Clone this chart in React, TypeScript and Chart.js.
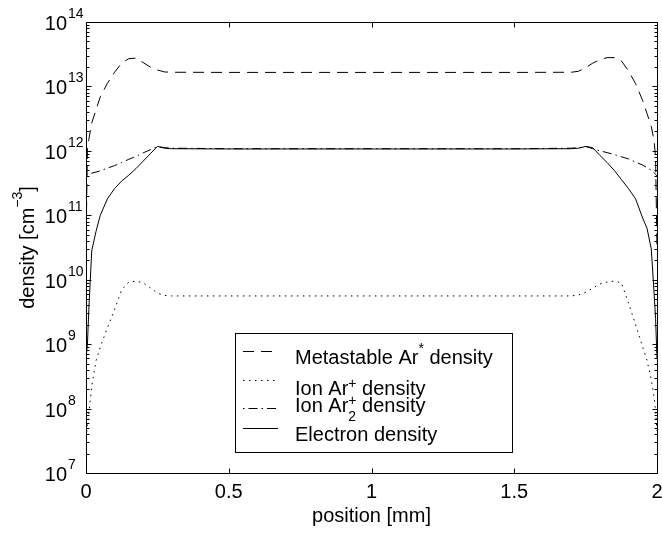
import React, { useEffect, useRef } from "react";
import { Chart, registerables } from "chart.js";

Chart.register(...registerables);

// position along the gap [mm]
const positionMm = [
  0, 0.005, 0.01, 0.02, 0.035, 0.05, 0.075, 0.1, 0.125, 0.15, 0.175, 0.2, 0.225, 0.25, 0.275, 0.3,
  0.5, 0.75, 1.0, 1.25, 1.5,
  1.7, 1.725, 1.75, 1.775, 1.8, 1.825, 1.85, 1.875, 1.9, 1.925, 1.95, 1.965, 1.98, 1.99, 1.995, 2.0,
];

// Metastable Ar* density [cm^-3]
const metastableDensity = [
  3e10, 1.1e12, 1.5e12, 2.7e12, 4.3e12, 6.9e12, 1.12e13, 1.66e13, 2.3e13, 2.7e13, 2.75e13, 2.35e13, 2.0e13, 1.8e13, 1.68e13, 1.66e13,
  1.65e13, 1.65e13, 1.65e13, 1.65e13, 1.65e13,
  1.66e13, 1.72e13, 1.95e13, 2.3e13, 2.6e13, 2.8e13, 2.8e13, 2.5e13, 1.75e13, 1.1e13, 6e12, 3.8e12, 2.4e12, 1.4e12, 8e11, 3e10,
];

// Ion Ar+ density [cm^-3]
const ionArDensity = [
  3.5e7, 5.5e7, 8.5e7, 2.2e8, 5.5e8, 9e8, 1.8e9, 3.4e9, 7e9, 9.2e9, 9.5e9, 9.0e9, 7.5e9, 6.2e9, 5.7e9, 5.6e9,
  5.6e9, 5.6e9, 5.6e9, 5.6e9, 5.6e9,
  5.6e9, 5.8e9, 6.4e9, 7.4e9, 8.6e9, 9.2e9, 9.5e9, 9e9, 4.4e9, 2e9, 9e8, 5.6e8, 2.8e8, 1.5e8, 9e7, 4.5e7,
];

// Ion Ar2+ density [cm^-3]
const ionAr2Density = [
  4.2e11, 4.3e11, 4.4e11, 4.5e11, 4.7e11, 4.9e11, 5.4e11, 5.9e11, 6.6e11, 7.4e11, 8.2e11, 9.3e11, 1.04e12, 1.17e12, 1.12e12, 1.1e12,
  1.08e12, 1.08e12, 1.08e12, 1.08e12, 1.08e12,
  1.1e12, 1.12e12, 1.17e12, 1.08e12, 1.0e12, 9.4e11, 8.8e11, 8.1e11, 7.5e11, 6.7e11, 6.0e11, 5.5e11, 5.0e11, 4.6e11, 4.3e11, 4.1e11,
];

// Electron density [cm^-3]
const electronDensity = [
  6e8, 1.0e9, 3.5e9, 2.8e10, 5.6e10, 1.0e11, 1.8e11, 2.6e11, 3.4e11, 4.2e11, 5.3e11, 6.9e11, 9e11, 1.17e12, 1.1e12, 1.08e12,
  1.07e12, 1.07e12, 1.07e12, 1.07e12, 1.07e12,
  1.08e12, 1.1e12, 1.17e12, 1.12e12, 8.5e11, 6.6e11, 5e11, 3.6e11, 2.6e11, 1.8e11, 9e10, 6.3e10, 3e10, 6e9, 2.5e9, 6e8,
];

const xTicks = [0, 0.5, 1, 1.5, 2];
const xTickLabels = ["0", "0.5", "1", "1.5", "2"];
const yExponents = [7, 8, 9, 10, 11, 12, 13, 14];

const legendLabels = ["Metastable Ar", "Ion Ar", "Ion Ar", "Electron density"];

const FONT = '"Liberation Sans", Arial, Helvetica, sans-serif';
const INK = "#000";

const DASHED = [11, 7];
const DOTTED = [1.5, 4.5];
const DASHDOT = [1.5, 4, 9, 4];

type Part = { t: string; size: number; dy: number };

function drawParts(ctx: CanvasRenderingContext2D, parts: Part[], x: number, y: number) {
  let cx = x;
  for (const p of parts) {
    ctx.font = `${p.size}px ${FONT}`;
    ctx.fillText(p.t, cx, y + p.dy);
    cx += ctx.measureText(p.t).width;
  }
  return cx;
}

function partsWidth(ctx: CanvasRenderingContext2D, parts: Part[]) {
  let w = 0;
  for (const p of parts) {
    ctx.font = `${p.size}px ${FONT}`;
    w += ctx.measureText(p.t).width;
  }
  return w;
}

const axesPlugin = {
  id: "matlabAxes",
  afterDraw(chart: any) {
    const ctx: CanvasRenderingContext2D = chart.ctx;
    const { left, right, top, bottom } = chart.chartArea;
    const xs = chart.scales.x;
    const ys = chart.scales.y;
    const L = Math.round(left) + 0.5;
    const R = Math.round(right) + 0.5;
    const T = Math.round(top) + 0.5;
    const B = Math.round(bottom) + 0.5;

    ctx.save();
    ctx.strokeStyle = INK;
    ctx.fillStyle = INK;
    ctx.lineWidth = 1;
    ctx.setLineDash([]);

    // ticks
    const major = 5;
    const minor = 3;
    ctx.beginPath();
    for (const v of xTicks) {
      const px = Math.round(xs.getPixelForValue(v)) + 0.5;
      ctx.moveTo(px, B);
      ctx.lineTo(px, B - major);
      ctx.moveTo(px, T);
      ctx.lineTo(px, T + major);
    }
    for (const e of yExponents) {
      const py = Math.round(ys.getPixelForValue(Math.pow(10, e))) + 0.5;
      ctx.moveTo(L, py);
      ctx.lineTo(L + major, py);
      ctx.moveTo(R, py);
      ctx.lineTo(R - major, py);
      if (e < 14) {
        for (let k = 2; k <= 9; k++) {
          const pm = Math.round(ys.getPixelForValue(k * Math.pow(10, e))) + 0.5;
          ctx.moveTo(L, pm);
          ctx.lineTo(L + minor, pm);
          ctx.moveTo(R, pm);
          ctx.lineTo(R - minor, pm);
        }
      }
    }
    ctx.stroke();

    // box
    ctx.beginPath();
    ctx.rect(L, T, R - L, B - T);
    ctx.stroke();

    // x tick labels
    ctx.textAlign = "center";
    ctx.textBaseline = "alphabetic";
    ctx.font = `20px ${FONT}`;
    xTicks.forEach((v, i) => {
      ctx.fillText(xTickLabels[i], xs.getPixelForValue(v), B + 24);
    });

    // y tick labels: 10 with superscript exponent
    for (const e of yExponents) {
      const py = ys.getPixelForValue(Math.pow(10, e));
      ctx.textAlign = "right";
      ctx.font = `20px ${FONT}`;
      ctx.fillText("10", left - 19, py + 8);
      ctx.textAlign = "left";
      ctx.font = `14px ${FONT}`;
      ctx.fillText(String(e), left - 18, py - 4);
    }

    // x title
    ctx.textAlign = "center";
    ctx.font = `20px ${FONT}`;
    ctx.fillText("position [mm]", (left + right) / 2, B + 48);

    // y title (rotated)
    ctx.save();
    ctx.translate(27, (top + bottom) / 2);
    ctx.rotate(-Math.PI / 2);
    ctx.textAlign = "left";
    const yParts: Part[] = [
      { t: "density [cm", size: 20, dy: 0 },
      { t: "\u22123", size: 14, dy: -12 },
      { t: "]", size: 20, dy: 0 },
    ];
    const yw = partsWidth(ctx, yParts);
    drawParts(ctx, yParts, -yw / 2, 7);
    ctx.restore();

    // legend
    const bx = 235.5, by = 333.5, bw = 277, bh = 119;
    ctx.fillStyle = "#fff";
    ctx.fillRect(bx, by, bw, bh);
    ctx.strokeStyle = INK;
    ctx.strokeRect(bx, by, bw, bh);
    ctx.fillStyle = INK;

    const sx0 = 243, sx1 = 278, tx = 295;
    const rows = [
      { dash: DASHED, ly: 351.5, base: 364, parts: [
        { t: legendLabels[0], size: 20, dy: 0 },
        { t: "*", size: 14, dy: -11 },
        { t: " density", size: 20, dy: 0 },
      ] },
      { dash: DOTTED, ly: 380.5, base: 395, parts: [
        { t: legendLabels[1], size: 20, dy: 0 },
        { t: "+", size: 14, dy: -7 },
        { t: " density", size: 20, dy: 0 },
      ] },
      { dash: DASHDOT, ly: 408.5, base: 412, parts: [] as Part[] },
      { dash: [] as number[], ly: 428.5, base: 441, parts: [
        { t: legendLabels[3], size: 20, dy: 0 },
      ] },
    ];
    ctx.textAlign = "left";
    for (const r of rows) {
      ctx.setLineDash(r.dash);
      ctx.beginPath();
      ctx.moveTo(sx0, r.ly);
      ctx.lineTo(sx1, r.ly);
      ctx.stroke();
      ctx.setLineDash([]);
      if (r.parts.length) drawParts(ctx, r.parts, tx, r.base);
    }
    // third row: Ar with stacked super/subscript
    {
      const base = 412;
      ctx.font = `20px ${FONT}`;
      ctx.fillText(legendLabels[2], tx, base);
      const x1 = tx + ctx.measureText(legendLabels[2]).width;
      ctx.font = `14px ${FONT}`;
      ctx.fillText("+", x1, base - 7);
      ctx.fillText("2", x1, base + 9);
      const w = Math.max(ctx.measureText("+").width, ctx.measureText("2").width);
      ctx.font = `20px ${FONT}`;
      ctx.fillText(" density", x1 + w, base);
    }

    ctx.restore();
  },
};

function makeData(values: number[]) {
  return positionMm.map((x, i) => ({ x, y: values[i] }));
}

export default function App() {
  const ref = useRef<HTMLCanvasElement | null>(null);

  useEffect(() => {
    if (!ref.current) return;
    const common = {
      borderColor: INK,
      borderWidth: 1,
      pointRadius: 0,
      tension: 0,
      fill: false,
    };
    const chart = new Chart(ref.current, {
      type: "line",
      data: {
        datasets: [
          { ...common, label: "Metastable Ar* density", data: makeData(metastableDensity), borderDash: DASHED },
          { ...common, label: "Ion Ar+ density", data: makeData(ionArDensity), borderDash: DOTTED },
          { ...common, label: "Ion Ar2+ density", data: makeData(ionAr2Density), borderDash: DASHDOT },
          { ...common, label: "Electron density", data: makeData(electronDensity) },
        ],
      },
      options: {
        animation: false,
        responsive: false,
        events: [],
        layout: { padding: { left: 86, right: 5, top: 22, bottom: 60 } },
        plugins: { legend: { display: false }, tooltip: { enabled: false } },
        scales: {
          x: { type: "linear", min: 0, max: 2, display: false },
          y: { type: "logarithmic", min: 1e7, max: 1e14, display: false },
        },
      },
      plugins: [axesPlugin],
    } as any);
    return () => chart.destroy();
  }, []);

  return (
    <div style={{ position: "fixed", left: 0, top: 0, width: 662, height: 533, background: "#fff" }}>
      <canvas ref={ref} width={662} height={533} style={{ display: "block" }} />
    </div>
  );
}
